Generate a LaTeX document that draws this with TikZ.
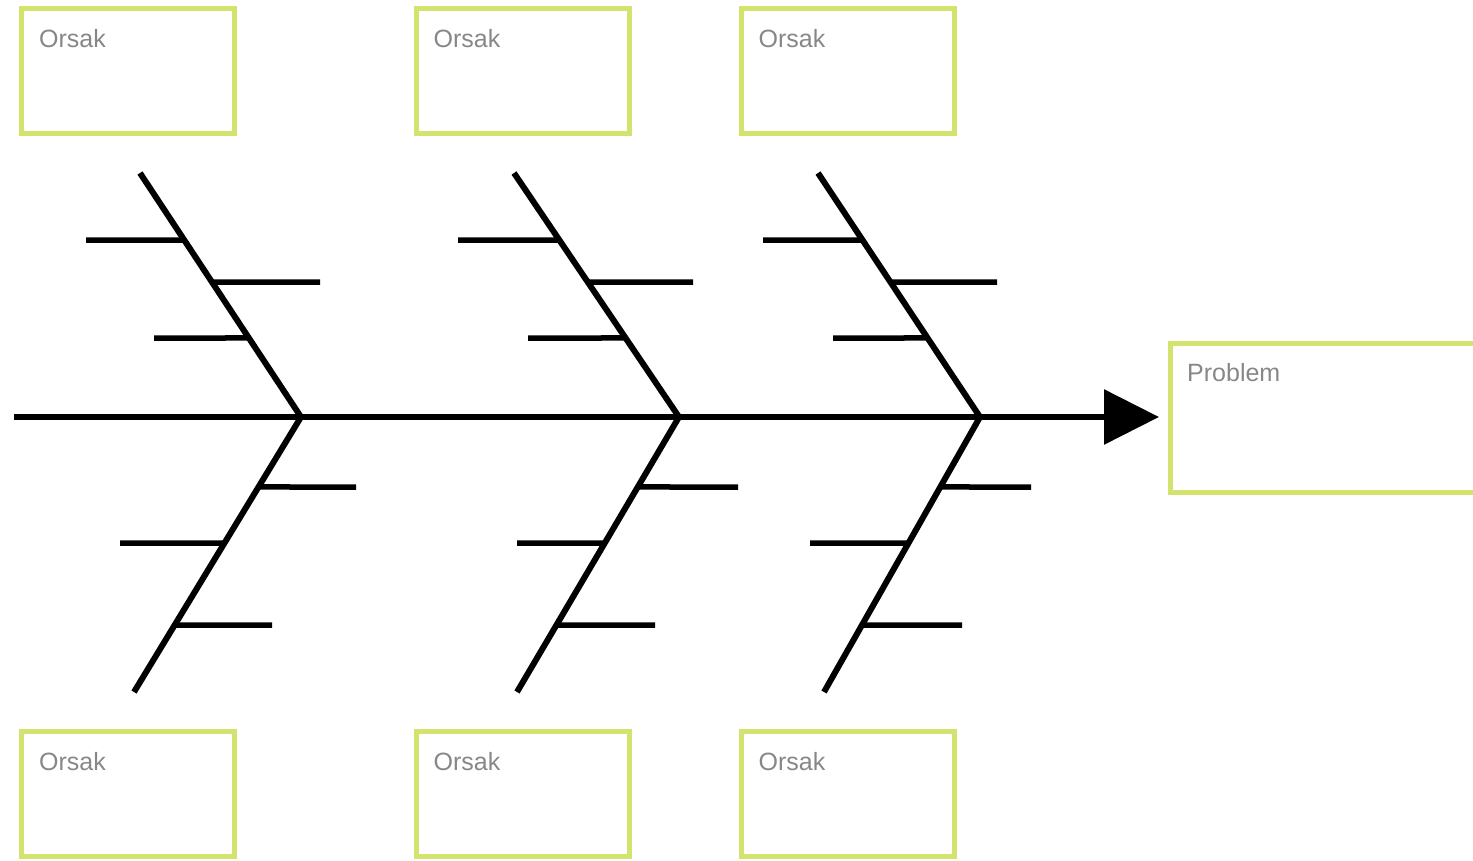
\documentclass[tikz,border=0pt]{standalone}
\usepackage{fontspec}
\setmainfont{Liberation Sans}
\usetikzlibrary{arrows.meta,calc}
\definecolor{boxc}{RGB}{212,226,110}
\definecolor{txtc}{RGB}{135,135,135}
\begin{document}
\begin{tikzpicture}[x=1pt,y=-1pt,
  cause/.style={draw=boxc, line width=5pt, minimum width=213pt, minimum height=125pt,
    inner sep=0pt, outer sep=0pt, anchor=north west},
  lbl/.style={anchor=base west, text=txtc, font=\fontsize{25}{29}\selectfont, inner sep=0pt},
  bone/.style={line width=6pt, line join=miter},
  twig/.style={line width=5.5pt}]
\useasboundingbox (0,0) rectangle (1473,860);
\clip (0,0) rectangle (1473,860);

% cause boxes
\node[cause] (t1) at (21.5,8) {};
\node[cause] (t2) at (416,8) {};
\node[cause] (t3) at (741,8) {};
\node[cause] (u1) at (21.5,731) {};
\node[cause] (u2) at (416,731) {};
\node[cause] (u3) at (741,731) {};
\node[cause, minimum width=340pt, minimum height=149pt] (pb) at (1170,343) {};

\foreach \b in {t1,t2,t3,u1,u2,u3}{
  \node[lbl] (\b l) at ([shift={(17.5,39)}]\b.north west) {Orsak};
}
\node[lbl] (pbl) at ([shift={(17,38)}]pb.north west) {Problem};

% spine
\coordinate (s) at (14,417);
\coordinate (tip) at (1159,417);
\draw[bone,-{Triangle[length=55pt,width=54pt]}] (s) -- (tip);

% bones
\coordinate (a1) at (140,173); \coordinate (h1) at (301,417); \coordinate (z1) at (134,692);
\coordinate (a2) at (514,173); \coordinate (h2) at (679,417); \coordinate (z2) at (517,692);
\coordinate (a3) at (818,173); \coordinate (h3) at (980,417); \coordinate (z3) at (824,692);
\draw[bone] (a1) -- (h1) -- (z1);
\draw[bone] (a2) -- (h2) -- (z2);
\draw[bone] (a3) -- (h3) -- (z3);

% twigs bone 1
\coordinate (p1a) at ($(a1)!0.2746!(h1)$); \coordinate (e1a) at (86,240);
\coordinate (p1b) at ($(a1)!0.4467!(h1)$); \coordinate (e1b) at (320,282);
\coordinate (p1c) at ($(a1)!0.6762!(h1)$); \coordinate (e1c) at (154,338);
\coordinate (q1a) at ($(h1)!0.2545!(z1)$); \coordinate (f1a) at (356,487);
\coordinate (q1b) at ($(h1)!0.4582!(z1)$); \coordinate (f1b) at (120,543);
\coordinate (q1c) at ($(h1)!0.7564!(z1)$); \coordinate (f1c) at (272,625);
% twigs bone 2
\coordinate (p2a) at ($(a2)!0.2746!(h2)$); \coordinate (e2a) at (458,240);
\coordinate (p2b) at ($(a2)!0.4467!(h2)$); \coordinate (e2b) at (693,282);
\coordinate (p2c) at ($(a2)!0.6762!(h2)$); \coordinate (e2c) at (528,338);
\coordinate (q2a) at ($(h2)!0.2545!(z2)$); \coordinate (f2a) at (738,487);
\coordinate (q2b) at ($(h2)!0.4582!(z2)$); \coordinate (f2b) at (517,543);
\coordinate (q2c) at ($(h2)!0.7564!(z2)$); \coordinate (f2c) at (655,625);
% twigs bone 3
\coordinate (p3a) at ($(a3)!0.2746!(h3)$); \coordinate (e3a) at (763,240);
\coordinate (p3b) at ($(a3)!0.4467!(h3)$); \coordinate (e3b) at (997,282);
\coordinate (p3c) at ($(a3)!0.6762!(h3)$); \coordinate (e3c) at (833,338);
\coordinate (q3a) at ($(h3)!0.2545!(z3)$); \coordinate (f3a) at (1031,487);
\coordinate (q3b) at ($(h3)!0.4582!(z3)$); \coordinate (f3b) at (810,543);
\coordinate (q3c) at ($(h3)!0.7564!(z3)$); \coordinate (f3c) at (962,625);

\foreach \i in {1,2,3}{
  \foreach \k in {a,b,c}{
    \draw[twig] (p\i\k) -- (e\i\k);
    \draw[twig] (q\i\k) -- (f\i\k);
  }
}
\end{tikzpicture}
\end{document}
